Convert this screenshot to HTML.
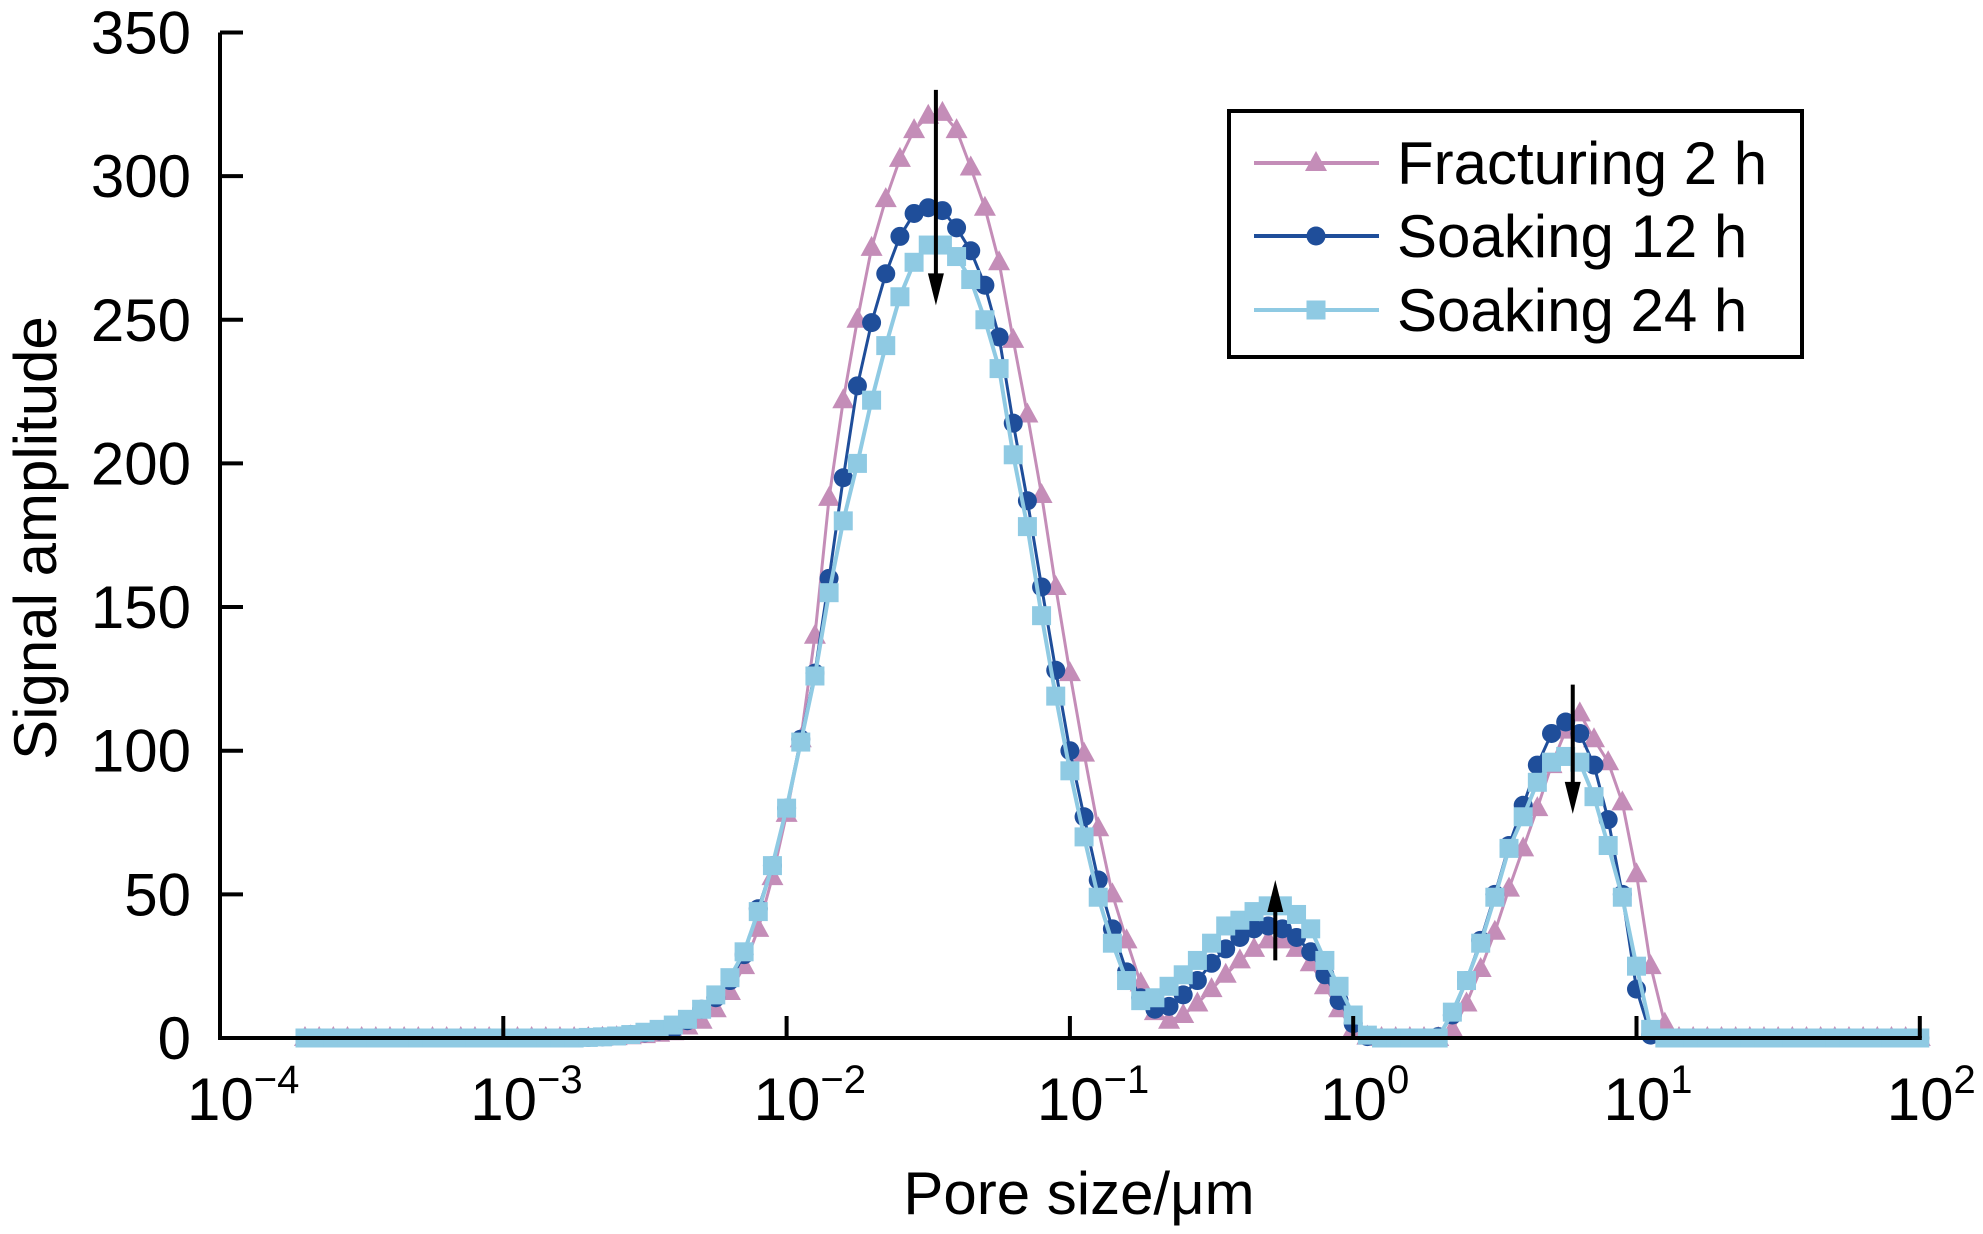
<!DOCTYPE html>
<html><head><meta charset="utf-8"><style>
html,body{margin:0;padding:0;background:#fff;}
svg{display:block;font-family:"Liberation Sans",Arial,sans-serif;}
</style></head><body>
<svg id="chart" width="1983" height="1234" viewBox="0 0 1983 1234" xmlns="http://www.w3.org/2000/svg">
<rect width="1983" height="1234" fill="#fff"/>
<g id="series"></g>
<g id="axes"></g>
<g id="legend"></g>
</svg>
<script>
const xStartExp = -3.7;
const xStepExp = 0.05;
const yTicks = [0, 50, 100, 150, 200, 250, 300, 350];
const xTickExps = [-4, -3, -2, -1, 0, 1, 2];
const xTickSup = ["\u22124", "\u22123", "\u22122", "\u22121", "0", "1", "2"];
const seriesNames = ["Fracturing 2 h", "Soaking 12 h", "Soaking 24 h"];
const fracturing2h = [0,0,0,0,0,0,0,0,0,0,0,0,0,0,0,0,0,0,0,0,
0,0.1,0.3,0.6,1,1.5,2,4,6,10,
16,25,38,56,78,104,140,188,222,250,
275,292,306,316,321,322,316,303,289,270,
243,217,189,157,127,99,73,50,34,19,
9,6,8,12,17,22,27,31,34,34,
31,26,18,10,3,0.5,0,0,0,0,
0,3,12,24,37,52,66,80,95,107,
113,104,96,82,57,25,5,0,
0,0,0,0,0,0,0,0,0,0,0,0,0,0,0,0,0];
const soaking12h = [0,0,0,0,0,0,0,0,0,0,0,0,0,0,0,0,0,0,0,0,
0.2,0.4,0.7,1.2,1.8,2.5,3,6,10,14,
20,29,45,60,80,104,127,160,195,227,
249,266,279,287,289,288,282,274,262,244,
214,187,157,128,100,77,55,38,23,14,
10,11,15,20,26,31,35,38,39,38,
35,30,22,13,5,0.5,0,0,0,0,
0.5,8,20,34,50,67,81,95,106,110,
106,95,76,50,17,1,0,0,
0,0,0,0,0,0,0,0,0,0,0,0,0,0,0,0,0];
const soaking24h = [0,0,0,0,0,0,0,0,0,0,0,0,0,0,0,0,0,0,0,0,
0.2,0.4,0.7,1.2,2,3,4.5,6.5,10,15,
21,30,44,60,80,103,126,155,180,200,
222,241,258,270,276,276,272,264,250,233,
203,178,147,119,93,70,49,33,20,13,
14,18,22,27,33,39,41,44,46,46,
43,38,27,18,8,1,0,0,0,0,
0,9,20,33,49,66,77,89,96,98,
96,84,67,49,25,3,0,0,
0,0,0,0,0,0,0,0,0,0,0,0,0,0,0,0,0];
const arrowsData = [[-1.473, 330, 255], [-0.275, 27, 55], [0.775, 123, 78]];

const NS = "http://www.w3.org/2000/svg";
const X0 = 220, DEC = 283.3, Y0 = 1038, YS = 2.873;
function xScale(e){ return X0 + (e + 4) * DEC; }
function yScale(v){ return Y0 - v * YS; }
function mk(tag, attrs, parent){
  const el = document.createElementNS(NS, tag);
  for (const k in attrs) el.setAttribute(k, attrs[k]);
  parent.appendChild(el);
  return el;
}
const seriesG = document.getElementById("series");
const axesG = document.getElementById("axes");
const legendG = document.getElementById("legend");

const colors = ["#C48DB8", "#1F4E9A", "#8FCAE3"];
const lineW = [3, 3, 4];
const allData = [fracturing2h, soaking12h, soaking24h];
const markerKinds = ["tri", "circ", "sq"];

function drawMarker(kind, cx, cy, color, parent, name){
  let m;
  if (kind === "tri") {
    m = mk("polygon", {points: `${cx},${cy-12} ${cx-11},${cy+8} ${cx+11},${cy+8}`, fill: color}, parent);
  } else if (kind === "circ") {
    m = mk("circle", {cx: cx, cy: cy, r: 9.5, fill: color}, parent);
  } else {
    m = mk("rect", {x: cx-9.5, y: cy-9.5, width: 19, height: 19, fill: color}, parent);
  }
  
  
  return m;
}

allData.forEach((arr, si) => {
  const g = mk("g", {}, seriesG);
  
  
  let d = "";
  arr.forEach((v, i) => {
    const e = xStartExp + i * xStepExp;
    d += (i ? "L" : "M") + xScale(e).toFixed(1) + "," + yScale(v).toFixed(1);
  });
  const p = mk("path", {d: d, fill: "none", stroke: colors[si], "stroke-width": lineW[si], "stroke-linejoin": "round"}, g);
  
  
  arr.forEach((v, i) => {
    const e = xStartExp + i * xStepExp;
    drawMarker(markerKinds[si], xScale(e), yScale(v), colors[si], g, 'data-point');
  });
});

// arrows
arrowsData.forEach((a) => {
  const x = xScale(a[0]);
  const yFrom = yScale(a[1]), yTo = yScale(a[2]);
  const dir = yTo > yFrom ? 1 : -1;
  const g = mk("g", {}, seriesG);
  
  
  const ln = mk("line", {x1: x, y1: yFrom, x2: x, y2: yTo - dir * 30, stroke: "#000", "stroke-width": 4}, g);
  
  
  const hd = mk("polygon", {points: `${x},${yTo} ${x-8},${yTo - dir*32} ${x+8},${yTo - dir*32}`, fill: "#000"}, g);
  
  
});

// axes
const yAxis = mk("line", {x1: X0, y1: yScale(350), x2: X0, y2: Y0 + 2, stroke: "#000", "stroke-width": 4}, axesG);


const xAxis = mk("line", {x1: X0 - 2, y1: Y0, x2: xScale(2) + 2, y2: Y0, stroke: "#000", "stroke-width": 4}, axesG);



yTicks.forEach(t => {
  const y = yScale(t);
  const tk = mk("line", {x1: X0, y1: y, x2: X0 + 23, y2: y, stroke: "#000", "stroke-width": 4}, axesG);
  
  
  const lb = mk("text", {x: 191, y: y + 21, "text-anchor": "end", "font-size": 60, fill: "#000"}, axesG);
  lb.textContent = String(t);
  
  
});

xTickExps.forEach((e, i) => {
  const x = xScale(e);
  if (e > -4) {
    const tk = mk("line", {x1: x, y1: Y0, x2: x, y2: Y0 - 22, stroke: "#000", "stroke-width": 4}, axesG);
    
    
  }
  const lb = mk("text", {x: x - 33, y: 1120, "font-size": 60, fill: "#000"}, axesG);
  
  
  const t1 = mk("tspan", {}, lb);
  t1.textContent = "10";
  const t2 = mk("tspan", {dy: -27, "font-size": 40}, lb);
  t2.textContent = xTickSup[i];
});

const xt = mk("text", {x: 1079, y: 1214, "text-anchor": "middle", "font-size": 60, fill: "#000"}, axesG);
xt.textContent = "Pore size/\u03bcm";


const yt = mk("text", {x: 0, y: 0, transform: "translate(56,538) rotate(-90)", "text-anchor": "middle", "font-size": 60, fill: "#000"}, axesG);
yt.textContent = "Signal amplitude";



// legend
const box = mk("rect", {x: 1229, y: 111, width: 573, height: 246, fill: "#fff", stroke: "#000", "stroke-width": 4}, legendG);


const legY = [163, 236, 310];
seriesNames.forEach((n, si) => {
  const g = mk("g", {}, legendG);
  
  
  const ln = mk("line", {x1: 1254, y1: legY[si], x2: 1379, y2: legY[si], stroke: colors[si], "stroke-width": 4}, g);
  
  
  drawMarker(markerKinds[si], 1316, legY[si], colors[si], g, 'legend-marker');
  const tx = mk("text", {x: 1397, y: legY[si] + 21, "font-size": 60, fill: "#000"}, g);
  tx.textContent = n;
  
  
});
</script>
</body></html>
